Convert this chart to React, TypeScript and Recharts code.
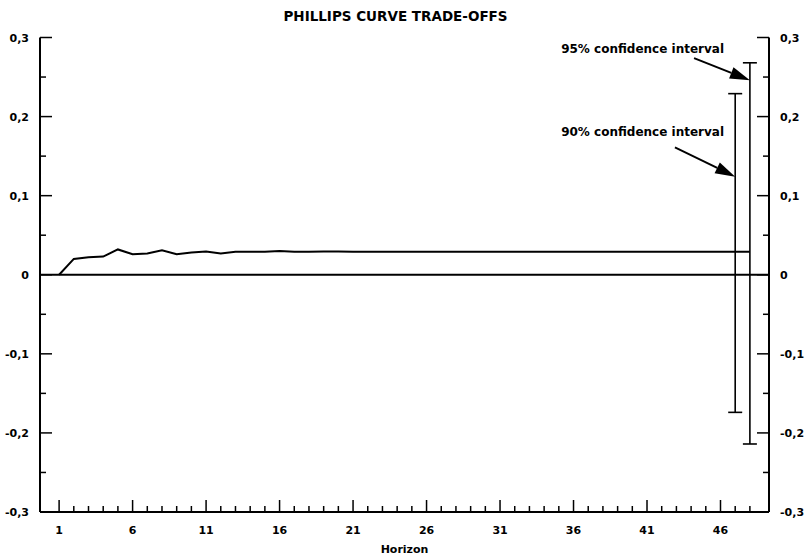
import React from "react";
import {
  ComposedChart,
  Line,
  Scatter,
  ErrorBar,
  XAxis,
  YAxis,
  ReferenceLine,
  ReferenceDot,
} from "recharts";

// ─── Data ─────────────────────────────────────────────────────────────────

const horizons = Array.from({ length: 48 }, (_, i) => i + 1);

const tradeOff = [
  0, 0.02, 0.022, 0.023, 0.032, 0.026, 0.027, 0.031, 0.026, 0.028,
  0.0295, 0.027, 0.029, 0.029, 0.029, 0.03, 0.029, 0.029, 0.0295, 0.0295,
  0.029, 0.029, 0.029, 0.029, 0.029, 0.029, 0.029, 0.029, 0.029, 0.029,
  0.029, 0.029, 0.029, 0.029, 0.029, 0.029, 0.029, 0.029, 0.029, 0.029,
  0.029, 0.029, 0.029, 0.029, 0.029, 0.029, 0.029, 0.029,
];

const ciHorizon = [47, 48];
const ciEstimate = [0.029, 0.029];
const ciLower = [-0.174, -0.214];
const ciUpper = [0.229, 0.268];

const noteText = ["90% confidence interval", "95% confidence interval"];
const noteTextAt = [
  { h: 40.7, v: 0.18 },
  { h: 40.7, v: 0.286 },
];
const arrowFrom = [
  { h: 42.9, v: 0.161 },
  { h: 44.2, v: 0.274 },
];
const arrowTo = [
  { h: 47, v: 0.124 },
  { h: 48, v: 0.246 },
];

const yTicks = [-0.3, -0.25, -0.2, -0.15, -0.1, -0.05, 0, 0.05, 0.1, 0.15, 0.2, 0.25, 0.3];

const lineData = horizons.map((h, i) => ({ h, v: tradeOff[i] }));
const ciData = ciHorizon.map((h, i) => ({
  h,
  est: ciEstimate[i],
  err: [ciEstimate[i] - ciLower[i], ciUpper[i] - ciEstimate[i]],
}));

// ─── Styles ───────────────────────────────────────────────────────────────

const font = "'DejaVu Sans', Arial, sans-serif";
const labelStyle = { fontFamily: font, fontSize: 11, fontWeight: 700, fill: "#000" };

const isMajorY = (v: number) => Math.abs(Math.round(v * 10) - v * 10) < 1e-6;
const fmtY = (v: number) => (Math.abs(v) < 1e-9 ? "0" : v.toFixed(1).replace(".", ","));

// ─── Ticks ────────────────────────────────────────────────────────────────

function LeftTick({ x, y, payload }: any) {
  const major = isMajorY(payload.value);
  return (
    <g>
      <line x1={x} x2={x + (major ? 12 : 6)} y1={y} y2={y} stroke="#000" strokeWidth={1.5} />
      {major && (
        <text x={x - 11} y={y + 4} textAnchor="end" {...labelStyle}>
          {fmtY(payload.value)}
        </text>
      )}
    </g>
  );
}

function RightTick({ x, y, payload }: any) {
  const major = isMajorY(payload.value);
  return (
    <g>
      <line x1={x} x2={x - (major ? 12 : 6)} y1={y} y2={y} stroke="#000" strokeWidth={1.5} />
      {major && (
        <text x={x + 11} y={y + 4} textAnchor="start" {...labelStyle}>
          {fmtY(payload.value)}
        </text>
      )}
    </g>
  );
}

function BottomTick({ x, y, payload }: any) {
  const major = (payload.value - 1) % 5 === 0;
  return (
    <g>
      <line x1={x} x2={x} y1={y} y2={y - (major ? 12 : 6)} stroke="#000" strokeWidth={1.5} />
      {major && (
        <text x={x} y={y + 22} textAnchor="middle" {...labelStyle}>
          {payload.value}
        </text>
      )}
    </g>
  );
}

// ─── Annotations ──────────────────────────────────────────────────────────

function Arrow({ x1, y1, x2, y2 }: any) {
  const a = Math.atan2(y2 - y1, x2 - x1);
  const len = 20;
  const half = 6;
  const bx = x2 - len * Math.cos(a);
  const by = y2 - len * Math.sin(a);
  const px = -Math.sin(a) * half;
  const py = Math.cos(a) * half;
  return (
    <g>
      <line x1={x1} y1={y1} x2={bx} y2={by} stroke="#000" strokeWidth={2} />
      <polygon points={`${x2},${y2} ${bx + px},${by + py} ${bx - px},${by - py}`} fill="#000" />
    </g>
  );
}

function NoteLabel(text: string) {
  return ({ cx, cy }: any) => (
    <text x={cx} y={cy + 4} textAnchor="middle" {...labelStyle} fontSize={12}>
      {text}
    </text>
  );
}

// ─── Chart ────────────────────────────────────────────────────────────────

export default function App() {
  return (
    <div style={{ position: "absolute", left: 0, top: 0, width: 807, height: 556, background: "#fff" }}>
      <div
        style={{
          position: "absolute",
          top: 8,
          left: -8,
          width: 807,
          textAlign: "center",
          fontFamily: font,
          fontWeight: 700,
          fontSize: 13.5,
          color: "#000",
        }}
      >
        PHILLIPS CURVE TRADE-OFFS
      </div>
      <ComposedChart
        width={807}
        height={556}
        data={lineData}
        margin={{ top: 37.5, right: 0, bottom: 0, left: 0 }}
      >
        <XAxis
          dataKey="h"
          type="number"
          domain={[-0.3, 49.3]}
          ticks={horizons}
          interval={0}
          allowDataOverflow
          height={44}
          tickSize={0}
          tickMargin={0}
          tickLine={false}
          tick={<BottomTick />}
          axisLine={{ stroke: "#000", strokeWidth: 2 }}
          label={{ value: "Horizon", position: "insideBottom", offset: 3, style: labelStyle }}
        />
        <YAxis
          yAxisId="left"
          orientation="left"
          width={40}
          domain={[-0.3, 0.3]}
          ticks={yTicks}
          interval={0}
          allowDataOverflow
          tickSize={0}
          tickMargin={0}
          tickLine={false}
          tick={<LeftTick />}
          axisLine={{ stroke: "#000", strokeWidth: 2 }}
        />
        <YAxis
          yAxisId="right"
          orientation="right"
          width={38}
          domain={[-0.3, 0.3]}
          ticks={yTicks}
          interval={0}
          allowDataOverflow
          tickSize={0}
          tickMargin={0}
          tickLine={false}
          tick={<RightTick />}
          axisLine={{ stroke: "#000", strokeWidth: 2 }}
        />
        <ReferenceLine yAxisId="left" y={0} stroke="#000" strokeWidth={1.8} />
        <Line
          yAxisId="left"
          type="linear"
          dataKey="v"
          stroke="#000"
          strokeWidth={2}
          dot={false}
          isAnimationActive={false}
        />
        <Scatter
          yAxisId="left"
          data={ciData}
          dataKey="est"
          shape={() => <g />}
          isAnimationActive={false}
        >
          <ErrorBar dataKey="err" direction="y" width={7} stroke="#000" strokeWidth={1.6} isAnimationActive={false} />
        </Scatter>
        {noteText.map((t, i) => (
          <ReferenceLine
            key={`arrow-${i}`}
            yAxisId="left"
            segment={[
              { x: arrowFrom[i].h, y: arrowFrom[i].v },
              { x: arrowTo[i].h, y: arrowTo[i].v },
            ]}
            shape={<Arrow />}
          />
        ))}
        {noteText.map((t, i) => (
          <ReferenceDot
            key={`note-${i}`}
            yAxisId="left"
            x={noteTextAt[i].h}
            y={noteTextAt[i].v}
            r={0}
            shape={NoteLabel(t)}
          />
        ))}
      </ComposedChart>
    </div>
  );
}
